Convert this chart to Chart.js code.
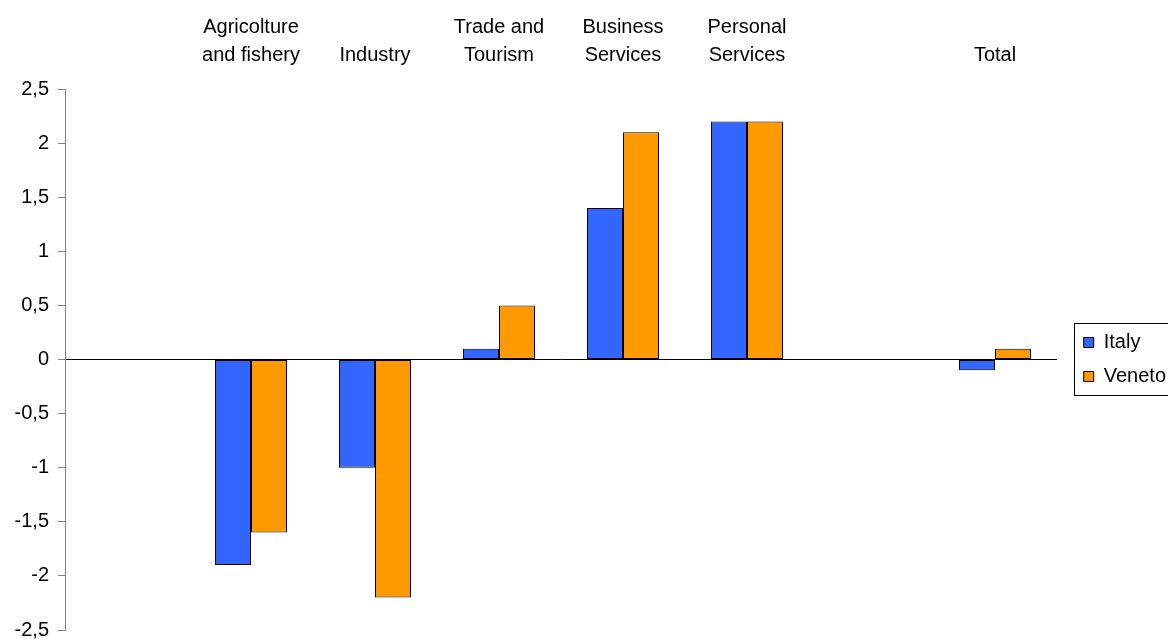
<!DOCTYPE html>
<html>
<head>
<meta charset="utf-8">
<script src="https://cdn.jsdelivr.net/npm/chart.js@4"></script>
<style>
    html, body { margin: 0; padding: 0; background: #fff; overflow: hidden; }
    .chart-container { width: 1176px; height: 639px; }
</style>
</head>
<body>
<div class="chart-container">
    <canvas id="sectorChart" width="1176" height="639"></canvas>
</div>

<script>
    // Sector categories (first and seventh slot are empty in the original)
    const categories = [
        '',
        ['Agricolture', 'and fishery'],
        'Industry',
        ['Trade and', 'Tourism'],
        ['Business', 'Services'],
        ['Personal', 'Services'],
        '',
        'Total'
    ];
    const italy  = [null, -1.9, -1.0, 0.1, 1.4, 2.2, null, -0.1];
    const veneto = [null, -1.6, -2.2, 0.5, 2.1, 2.2, null, 0.1];
    const yTicks = [-2.5, -2, -1.5, -1, -0.5, 0, 0.5, 1, 1.5, 2, 2.5];

    const font = { family: '"Liberation Sans", Arial, sans-serif', size: 20, lineHeight: 1.4 };

    // space between plot and legend, corrected after first layout so bars sit on whole pixels
    let gapWidth = 11;

    // Draw a frame around the legend like the original
    const legendFrame = {
        id: 'legendFrame',
        afterDraw(chart) {
            const lg = chart.legend;
            if (!lg || !lg.legendHitBoxes.length) return;
            const boxes = lg.legendHitBoxes;
            const first = boxes[0], last = boxes[boxes.length - 1];
            const ctx = chart.ctx;
            ctx.save();
            ctx.strokeStyle = '#000';
            ctx.lineWidth = 1;
            const x = Math.round(first.left - 10) + 0.5;
            const y = Math.round(first.top - 10) + 0.5;
            const b = Math.round(last.top + last.height + 8) + 0.5;
            ctx.strokeRect(x, y, 200, b - y);
            ctx.restore();
        }
    };

    const chart = new Chart(document.getElementById('sectorChart').getContext('2d'), {
        type: 'bar',
        data: {
            labels: categories,
            datasets: [{
                label: 'Italy',
                data: italy,
                backgroundColor: '#3366FF',
                borderColor: '#000',
                borderWidth: 1,
                borderSkipped: false
            }, {
                label: 'Veneto',
                data: veneto,
                backgroundColor: '#FF9900',
                borderColor: '#000',
                borderWidth: 1,
                borderSkipped: false
            }]
        },
        options: {
            responsive: false,
            animation: false,
            layout: { padding: { top: 13, bottom: 9, left: 0, right: 0 } },
            datasets: {
                // 124px per category, 36px per bar
                bar: { barPercentage: 1, categoryPercentage: 72 / 124 }
            },
            plugins: {
                tooltip: { enabled: false },
                legend: {
                    position: 'right',
                    fullSize: false,
                    labels: {
                        font: font,
                        color: '#000',
                        boxWidth: 10,
                        boxHeight: 10,
                        padding: 14
                    }
                }
            },
            scales: {
                x: {
                    position: 'top',
                    afterFit(scale) { scale.height = 76; },
                    grid: { display: false, drawTicks: false },
                    border: { display: false },
                    ticks: { font: font, color: '#000', padding: 20, maxRotation: 0, autoSkip: false }
                },
                y: {
                    min: -2.5,
                    max: 2.5,
                    afterFit(scale) {
                        scale.width = 65;
                        scale.paddingTop = 0;
                        scale.paddingBottom = 0;
                    },
                    afterBuildTicks(scale) { scale.ticks = yTicks.map(v => ({ value: v })); },
                    grid: {
                        color: ctx => (ctx.tick && ctx.tick.value === 0) ? '#000' : 'rgba(0,0,0,0)',
                        tickColor: '#808080',
                        tickLength: 7,
                        lineWidth: 1
                    },
                    border: { color: '#808080', width: 1 },
                    ticks: {
                        font: font,
                        color: '#000',
                        padding: 9,
                        callback: v => String(v).replace('.', ',')
                    }
                },
                gap: {
                    type: 'linear',
                    position: 'right',
                    display: true,
                    grid: { display: false, drawTicks: false },
                    border: { display: false },
                    ticks: { display: false },
                    afterFit(scale) { scale.width = gapWidth; }
                }
            }
        },
        plugins: [legendFrame]
    });

    // plot should end at x=1057 (8 x 124px categories from x=65)
    const shift = chart.chartArea.right - 1057;
    if (Math.abs(shift) > 0.01) {
        gapWidth += shift;
        chart.update();
    }
</script>
</body>
</html>
